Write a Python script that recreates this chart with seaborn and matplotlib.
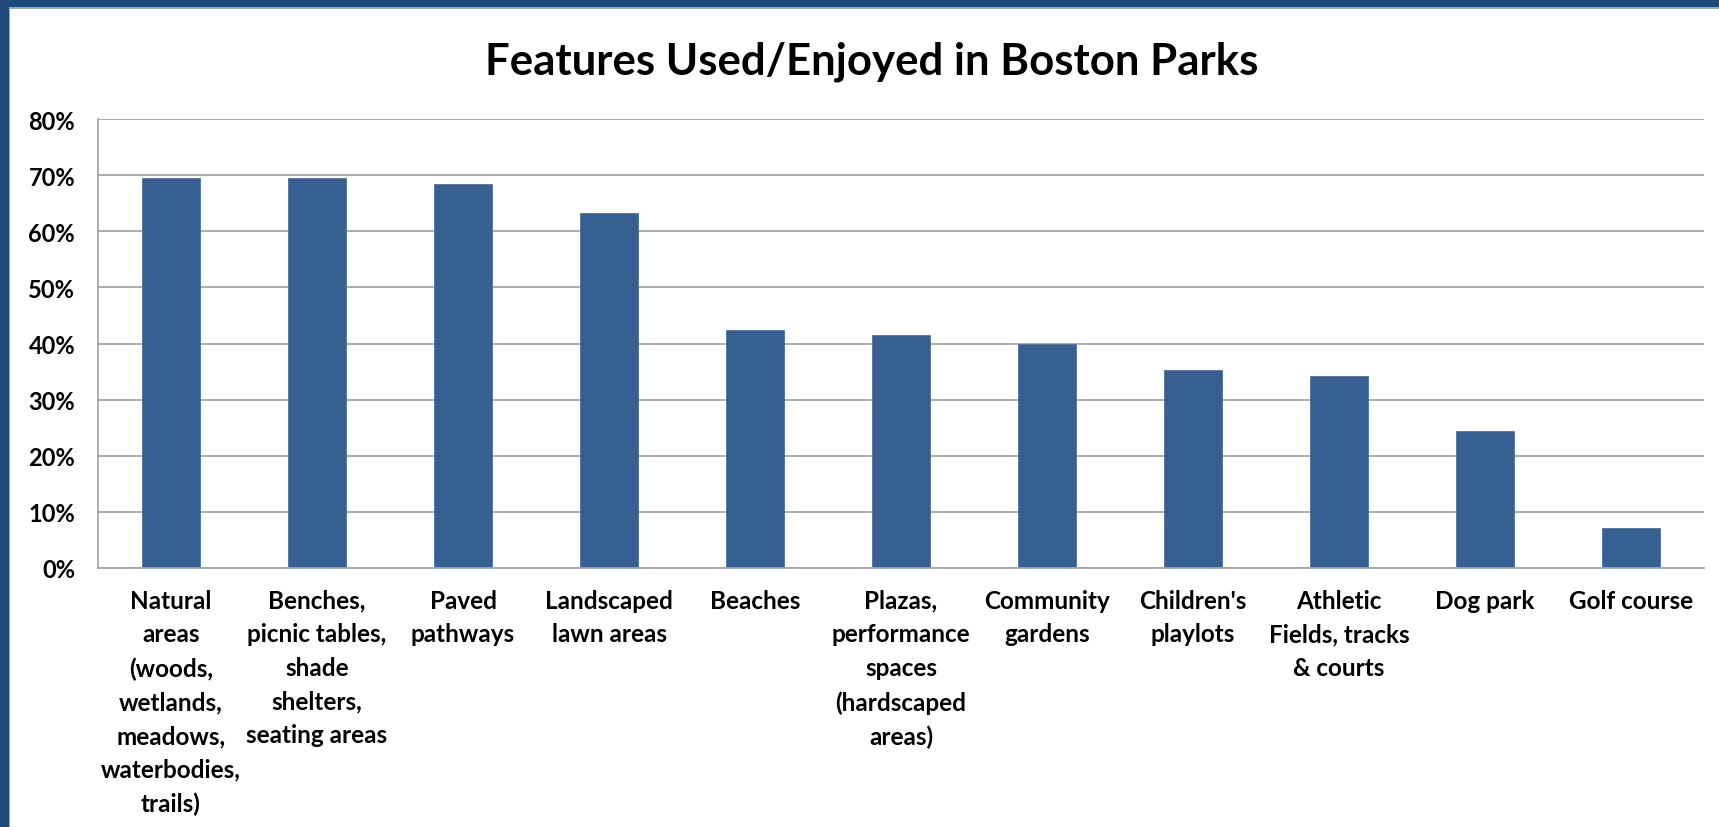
import matplotlib
matplotlib.use("Agg")
import matplotlib.pyplot as plt
import seaborn as sns
import pandas as pd
from matplotlib.patches import Rectangle
from matplotlib.ticker import FixedLocator, FuncFormatter

categories = [
    "Natural\nareas\n(woods,\nwetlands,\nmeadows,\nwaterbodies,\ntrails)",
    "Benches,\npicnic tables,\nshade\nshelters,\nseating areas",
    "Paved\npathways",
    "Landscaped\nlawn areas",
    "Beaches",
    "Plazas,\nperformance\nspaces\n(hardscaped\nareas)",
    "Community\ngardens",
    "Children's\nplaylots",
    "Athletic\nFields, tracks\n& courts",
    "Dog park",
    "Golf course",
]
values = [0.695, 0.695, 0.684, 0.633, 0.424, 0.416, 0.399, 0.352, 0.342, 0.244, 0.071]
title = "Features Used/Enjoyed in Boston Parks"

sns.set_theme(style="white")
plt.rcParams['font.family'] = ['Lato', 'DejaVu Sans']

W, H = 1719, 828
fig = plt.figure(figsize=(W / 100, H / 100), dpi=100)

# frame: dark blue band on top/left, thin gray inner line
fig.patches.append(Rectangle((0, 0), 1, 1, transform=fig.transFigure,
                             facecolor="#1F4A7C", edgecolor="none", zorder=-3))
fig.patches.append(Rectangle((9 / W, -0.01), 1, 1 - 8 / H + 0.01, transform=fig.transFigure,
                             facecolor="#A6A6A6", edgecolor="none", zorder=-2))
fig.patches.append(Rectangle((10 / W, -0.01), 1, 1 - 10 / H + 0.01, transform=fig.transFigure,
                             facecolor="white", edgecolor="none", zorder=-1))

ax = fig.add_axes([98 / W, 1 - 569 / H, (1704 - 98) / W, (569 - 120) / H])
ax.set_facecolor("none")

df = pd.DataFrame({"cat": categories, "val": values})
sns.barplot(data=df, x="cat", y="val", color="#376092", width=0.40,
            saturation=1, ax=ax, edgecolor="#4A72A0", linewidth=0.6)

ax.set_ylim(0, 0.8)
ax.set_xlim(-0.5, len(categories) - 0.5)
ax.yaxis.set_major_locator(FixedLocator([i / 10 for i in range(9)]))
ax.yaxis.set_major_formatter(FuncFormatter(lambda v, p: f"{round(v * 100)}%"))
ax.grid(axis="y", color="#A6A6A6", linewidth=1.3)
ax.set_axisbelow(True)

for s in ["top", "right"]:
    ax.spines[s].set_visible(False)
for s in ["left", "bottom"]:
    ax.spines[s].set_color("#A6A6A6")
    ax.spines[s].set_linewidth(1.3)

ax.set_xlabel("")
ax.set_ylabel("")
ax.tick_params(axis="y", which="major", length=6.5, width=1.3, color="#A6A6A6",
               direction="out", pad=10, labelsize=17, labelcolor="black")
ax.xaxis.set_minor_locator(FixedLocator([i - 0.5 for i in range(len(categories) + 1)]))
ax.tick_params(axis="x", which="minor", length=6.5, width=1.3, color="#A6A6A6", direction="out")
ax.tick_params(axis="x", which="major", length=0, pad=15, labelsize=17.5, labelcolor="black")
for lbl in ax.get_yticklabels():
    lbl.set_fontweight("bold")
for lbl in ax.get_xticklabels():
    lbl.set_fontweight("bold")
    lbl.set_linespacing(1.56)
    lbl.set_verticalalignment("top")

fig.text(872 / W, 1 - 62 / H, title, ha="center", va="center",
         fontsize=31.5, fontweight="bold", color="black")

fig.savefig("out.png", dpi=100)
